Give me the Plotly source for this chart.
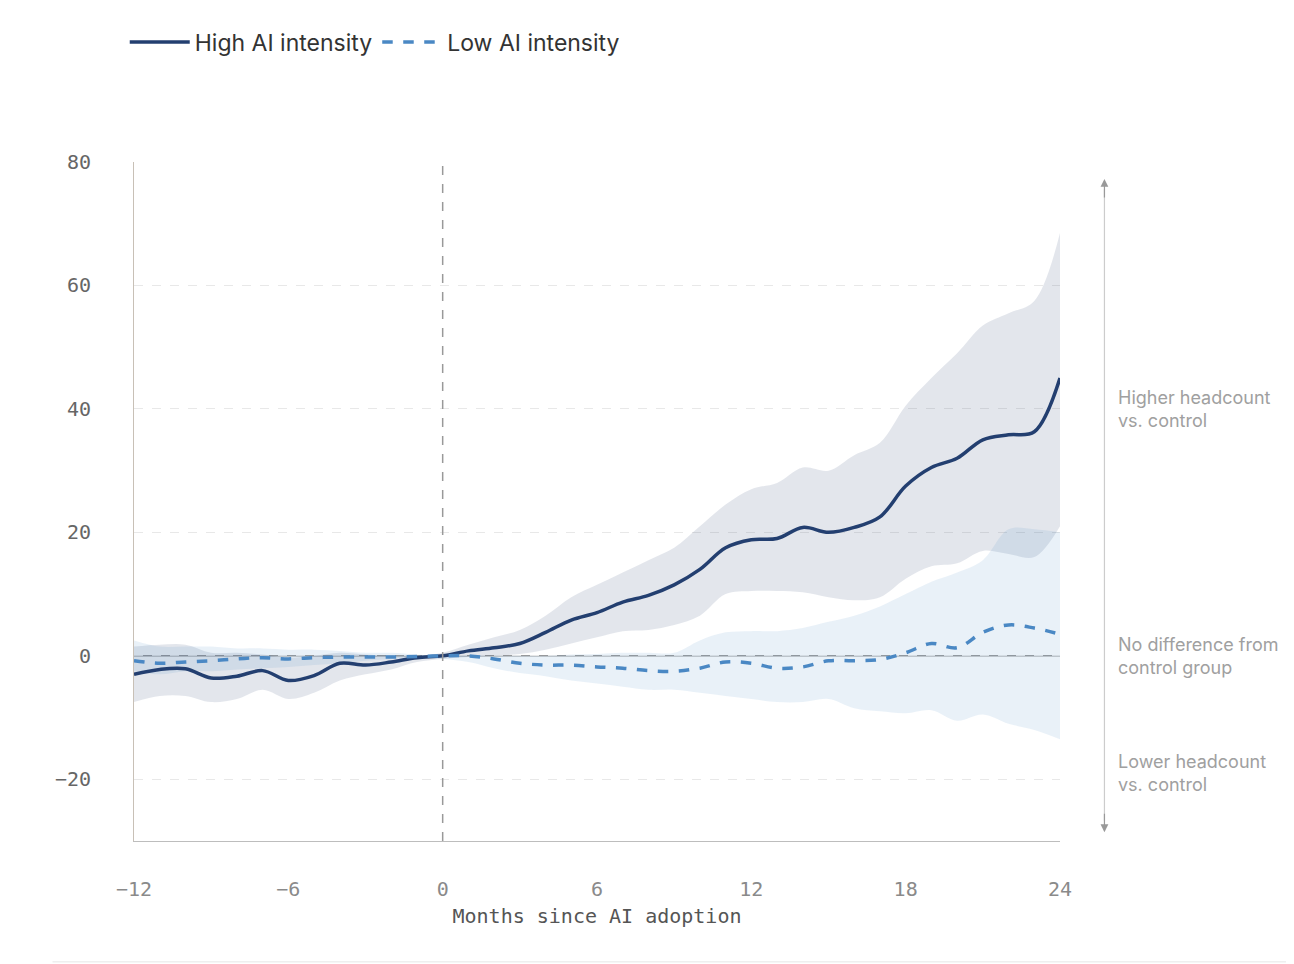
import plotly.graph_objects as go

months = list(range(-12, 25))

high_mean = [-3, -2.2, -2.1, -3.6, -3.3, -2.4, -4, -3.2, -1.2, -1.5, -1, -0.3, 0,
             0.8, 1.3, 2, 3.8, 5.8, 7, 8.7, 9.8, 11.5, 14, 17.5, 18.8, 19, 20.8,
             20, 20.8, 22.5, 27.5, 30.5, 32, 35, 35.8, 36.3, 45]
high_upper = [1.5, 1.8, 1.8, 0.5, 0.5, 0.2, -0.3, 0, 0.5, 0.2, 0, 0, 0.5,
              1.8, 3, 4.2, 6.5, 9.5, 11.5, 13.5, 15.5, 17.5, 21, 24.5, 27, 28, 30.5,
              30, 32.5, 34.5, 40.5, 45, 49, 53.5, 55.5, 57.5, 68.5]
high_lower = [-7.5, -6.5, -6.5, -7.5, -7, -5.5, -7, -6, -4, -3, -2.2, -1, -0.5,
              -0.2, 0, 0.3, 1, 2, 3, 4, 4.2, 5, 6.5, 10, 10.5, 10.5, 10.3,
              9.5, 9, 9.5, 12.5, 14.5, 15, 17, 16.5, 16, 21]

low_mean = [-0.8, -1.2, -1, -0.8, -0.5, -0.3, -0.5, -0.3, -0.2, -0.2, -0.2, -0.1, 0,
            0, -0.5, -1.2, -1.5, -1.5, -1.8, -2, -2.4, -2.5, -2, -1, -1.2, -2, -1.8,
            -0.8, -0.8, -0.6, 0.5, 2, 1.3, 3.8, 5, 4.5, 3.5]
low_upper = [2.5, 1.5, 1.5, 1.5, 1.2, 1.2, 1, 1, 0.8, 0.5, 0.5, 0.2, 0,
             0, 0, 0, 0, 0.2, 0.3, 0.5, 0.5, 0.5, 2.5, 3.8, 4, 4, 4.5,
             5.5, 6.5, 8, 10, 12, 13.5, 15.5, 20.5, 20.5, 20]
low_lower = [-2.5, -3, -2.5, -2.5, -2.2, -2, -1.8, -1.5, -1.2, -0.8, -0.5, -0.3, -0.5,
             -1, -2, -2.8, -3.3, -4, -4.5, -5, -5.5, -5.5, -6, -6.5, -7, -7.5, -7.5,
             -7, -8.5, -9, -9.3, -8.8, -10.5, -9.5, -11, -12, -13.5]

x_ticks = [-12, -6, 0, 6, 12, 18, 24]
x_tick_labels = ["\u221212", "\u22126", "0", "6", "12", "18", "24"]
y_ticks = [-20, 0, 20, 40, 60, 80]
y_tick_labels = ["\u221220", "0", "20", "40", "60", "80"]

DARK = "#233f70"
LIGHT = "#4a88c4"
MONO = "DejaVu Sans Mono"
SANS = "Inter"

fig = go.Figure()


def add_band(upper, lower, color):
    fig.add_trace(go.Scatter(x=months, y=upper, mode="lines", line=dict(width=0, shape="spline"),
                             showlegend=False, hoverinfo="skip"))
    fig.add_trace(go.Scatter(x=months, y=lower, mode="lines", line=dict(width=0, shape="spline"),
                             fill="tonexty", fillcolor=color, showlegend=False, hoverinfo="skip"))


add_band(high_upper, high_lower, "rgba(35,63,112,0.13)")
add_band(low_upper, low_lower, "rgba(74,136,196,0.12)")

fig.add_trace(go.Scatter(x=months, y=high_mean, mode="lines", name="High AI intensity",
                         line=dict(color=DARK, width=3.5, shape="spline")))
fig.add_trace(go.Scatter(x=months, y=low_mean, mode="lines", name="Low AI intensity",
                         line=dict(color=LIGHT, width=3.5, dash="dash", shape="spline")))

# zero line and adoption marker
fig.add_hline(y=0, line=dict(color="#9a9a9a", width=1.5), layer="below")
fig.add_vline(x=0, line=dict(color="#999999", width=1.5, dash="dash"))

# right-hand arrow
fig.add_shape(type="line", xref="paper", yref="paper", x0=1.048, x1=1.048, y0=0.03, y1=0.96,
              line=dict(color="#cccccc", width=1.2))
fig.add_annotation(xref="paper", yref="paper", x=1.048, y=0.975, ax=0, ay=20,
                   text="", showarrow=True,
                   arrowhead=2, arrowsize=1.3, arrowwidth=1.2, arrowcolor="#999999")
fig.add_annotation(xref="paper", yref="paper", x=1.048, y=0.013, ax=0, ay=-20,
                   text="", showarrow=True,
                   arrowhead=2, arrowsize=1.3, arrowwidth=1.2, arrowcolor="#999999")

notes = [("Higher headcount<br>vs. control", 40),
         ("No difference from<br>control group", 0),
         ("Lower headcount<br>vs. control", -19)]
for text, yv in notes:
    fig.add_annotation(xref="paper", yref="y", x=1.06, y=yv, text=text, showarrow=False,
                       xanchor="left", align="left",
                       font=dict(family=SANS, size=18, color="#a0a0a0"))

# bottom rule
fig.add_shape(type="line", xref="paper", yref="paper", x0=-0.088, x1=1.26, y0=-0.178, y1=-0.178,
              line=dict(color="#e6e6e6", width=1))

fig.update_xaxes(range=[-12, 24], tickvals=x_ticks, ticktext=x_tick_labels,
                 showgrid=False, zeroline=False, showline=True, linecolor="#bdbdbd",
                 ticks="", ticklabelstandoff=30,
                 tickfont=dict(family=MONO, size=20, color="#8a8a8a"),
                 title=dict(text="Months since AI adoption", standoff=8,
                            font=dict(family=MONO, size=20, color="#555555")))
fig.update_yaxes(range=[-30, 80], tickvals=y_ticks, ticktext=y_tick_labels,
                 showgrid=True, gridcolor="#e8e8e8", griddash="dash", zeroline=False,
                 showline=True, linecolor="#c8c0b6", ticks="", ticklabelstandoff=38,
                 tickfont=dict(family=MONO, size=20, color="#666666"))

fig.update_layout(
    width=1294, height=964,
    margin=dict(l=126, r=242, t=105, b=131),
    plot_bgcolor="white", paper_bgcolor="white",
    legend=dict(orientation="h", x=-0.01, y=1.145, xanchor="left", yanchor="bottom",
                font=dict(family=SANS, size=23, color="#333333"), itemwidth=60,
                traceorder="normal"),
)

fig.write_html("out.html")
